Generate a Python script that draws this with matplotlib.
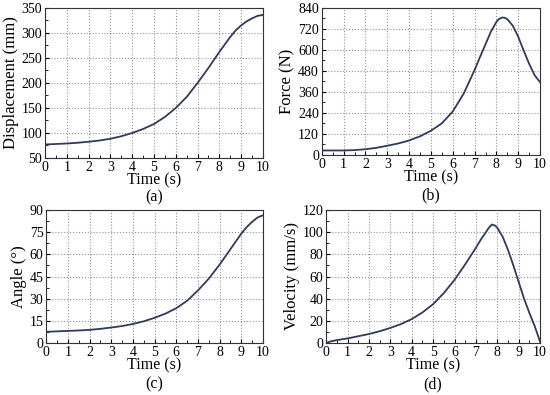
import numpy as np
import matplotlib
matplotlib.use("Agg")
import matplotlib.pyplot as plt
from matplotlib.ticker import MultipleLocator

plt.rcParams['font.family'] = ['Liberation Serif', 'DejaVu Serif']

# (a) displacement
t_a = [0, 0.5, 1, 1.5, 2, 2.5, 3, 3.5, 4, 4.5, 5, 5.5, 6, 6.5, 7, 7.5, 8, 8.5, 8.75, 9, 9.25, 9.5, 9.75, 10]
disp = [77, 78, 79, 80.5, 82.5, 85, 88.5, 93.5, 100, 108, 118, 132, 150, 172, 200, 230, 262, 292, 305, 315, 323, 329, 334, 336]

# (b) force
t_b = [0, 0.5, 1, 1.5, 2, 2.5, 3, 3.5, 4, 4.5, 5, 5.5, 6, 6.5, 7, 7.25, 7.5, 7.75, 8, 8.1, 8.25, 8.4, 8.5, 8.75, 9, 9.25, 9.5, 9.75, 10]
force = [25, 25, 25, 27, 32, 40, 52, 65, 82, 106, 138, 180, 248, 350, 485, 560, 632, 705, 760, 775, 785, 783, 775, 738, 675, 595, 520, 455, 415]

# (c) angle
t_c = [0, 0.5, 1, 1.5, 2, 2.5, 3, 3.5, 4, 4.5, 5, 5.5, 6, 6.5, 7, 7.5, 8, 8.5, 9, 9.25, 9.5, 9.75, 10]
angle = [7.5, 7.8, 8.1, 8.4, 8.8, 9.5, 10.4, 11.4, 12.8, 14.6, 17, 19.8, 23.5, 28.5, 35.5, 43.5, 53, 63.5, 74, 78.5, 82, 85, 86.5]

# (d) velocity
t_d = [0, 0.25, 0.5, 1, 1.5, 2, 2.5, 3, 3.5, 4, 4.5, 5, 5.5, 6, 6.5, 7, 7.25, 7.5, 7.6, 7.75, 7.9, 8, 8.25, 8.5, 8.75, 9, 9.25, 9.5, 9.75, 10]
vel = [0, 1.5, 2.5, 4, 6, 8, 10.5, 13.5, 17, 21.5, 27.5, 35, 45, 57, 71, 86, 94, 101, 104, 107, 106, 104, 96, 84, 70, 55, 40, 27, 15, 1]

fig = plt.figure(figsize=(5.5, 3.95), dpi=100)
rects = [
    [0.082, 0.600, 0.396, 0.380],
    [0.585, 0.608, 0.397, 0.372],
    [0.084, 0.132, 0.394, 0.336],
    [0.593, 0.132, 0.389, 0.336],
]
tag_y = [-0.265, -0.275, -0.31, -0.315]
panels = [
    (t_a, disp, 'Displacement (mm)', (50, 350), 50, 25, '(a)'),
    (t_b, force, 'Force (N)', (0, 840), 120, 60, '(b)'),
    (t_c, angle, 'Angle (°)', (0, 90), 15, 7.5, '(c)'),
    (t_d, vel, 'Velocity (mm/s)', (0, 120), 20, 10, '(d)'),
]
line_color = '#2e3b5c'

for r, ty, (t, y, ylab, ylim, major, minor, tag) in zip(rects, tag_y, panels):
    ax = fig.add_axes(r)
    ax.plot(t, y, color=line_color, lw=1.3)
    ax.set_xlim(0, 10)
    ax.set_ylim(*ylim)
    ax.xaxis.set_major_locator(MultipleLocator(1))
    ax.xaxis.set_minor_locator(MultipleLocator(0.5))
    ax.yaxis.set_major_locator(MultipleLocator(major))
    ax.yaxis.set_minor_locator(MultipleLocator(minor))
    ax.tick_params(which='both', direction='in', labelsize=10, pad=2)
    ax.tick_params(which='major', length=3)
    ax.tick_params(which='minor', length=2)
    ax.grid(True, which='major', color='#909090', linestyle=':', linewidth=0.8)
    for s in ax.spines.values():
        s.set_linewidth(0.8)
        s.set_color('#333333')
    ax.set_xlabel('Time (s)', fontsize=11.5, labelpad=-1)
    ax.set_ylabel(ylab, fontsize=12, labelpad=2)
    ax.text(0.5, ty, tag, transform=ax.transAxes, ha='center', va='center', fontsize=11.5)

fig.savefig('out.png', dpi=100)
